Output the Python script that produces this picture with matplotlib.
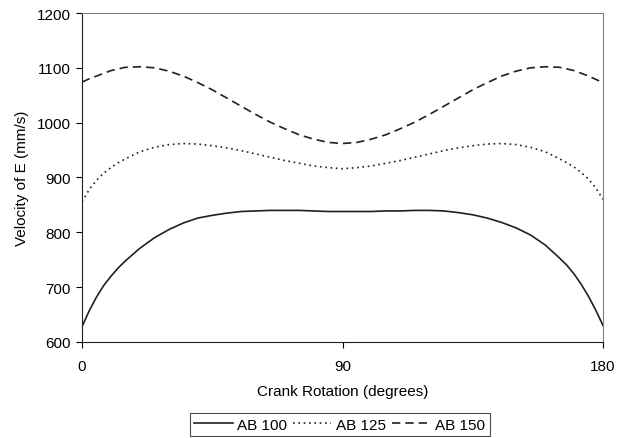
import numpy as np
import matplotlib
matplotlib.use("Agg")
import matplotlib.pyplot as plt

plt.rcParams['font.family'] = ['Liberation Sans', 'DejaVu Sans']

crank = [0, 2.5, 5, 7.5, 10, 12.5, 15, 20, 25, 30, 35, 40, 45, 50, 55, 60,
         65, 70, 75, 80, 85, 90, 95, 100, 105, 110, 115, 120, 125, 130, 135,
         140, 145, 150, 155, 160, 165, 167.5, 170, 172.5, 175, 177.5, 180]

ab100 = [628, 657, 682, 703, 720, 735, 748, 771, 790, 805, 817, 826, 831,
         835, 838, 839, 840, 840, 840, 839, 838, 838, 838, 838, 839, 839,
         840, 840, 839, 836, 832, 826, 818, 808, 795, 777, 753, 740, 724,
         705, 683, 658, 630]

ab125 = [856, 878, 895, 908, 918, 927, 934, 947, 955, 960, 962, 961, 958,
         954, 949, 943, 937, 931, 926, 921, 918, 916, 918, 921, 926, 931,
         937, 943, 949, 954, 958, 961, 962, 960, 955, 947, 934, 927, 919,
         909, 897, 881, 860]

ab150 = [1074, 1080, 1085, 1090, 1095, 1098, 1101, 1102, 1100, 1094, 1085,
         1073, 1060, 1045, 1030, 1015, 1001, 989, 978, 970, 964, 962, 964,
         970, 978, 989, 1001, 1015, 1030, 1045, 1060, 1073, 1085, 1094, 1100,
         1102, 1101, 1098, 1095, 1090, 1085, 1079, 1073]

fig = plt.figure(figsize=(6.29, 4.39), dpi=100)
ax = fig.add_axes([0.1304, 0.2187, 0.8283, 0.7494])

c = "#202020"
ax.plot(crank, ab100, color=c, lw=1.2, label="AB 100")
ax.plot(crank, ab125, color=c, lw=1.2, ls=(0, (1, 2.2)), label="AB 125")
ax.plot(crank, ab150, color=c, lw=1.2, ls=(0, (5, 3)), label="AB 150")

ax.set_xlim(0, 180)
ax.set_ylim(600, 1200)
ax.set_xticks([0, 90, 180])
ax.set_yticks(np.arange(600, 1201, 100))
ax.tick_params(axis="y", direction="out", length=4, pad=4, labelsize=11)
ax.tick_params(axis="x", direction="out", length=4, pad=8, labelsize=11)

for s in ["top", "right"]:
    ax.spines[s].set_color("#808080")
for s in ["left", "bottom"]:
    ax.spines[s].set_color("#202020")

ax.set_xlabel("Crank Rotation (degrees)", fontsize=11, labelpad=8)
ax.set_ylabel("Velocity of E (mm/s)", fontsize=11, labelpad=6)

leg = fig.legend(loc="center", bbox_to_anchor=(0.54, 0.03), ncol=3,
                 fontsize=11, frameon=True, fancybox=False, handlelength=2.5,
                 columnspacing=0.4, handletextpad=0.3, borderpad=0.3)
leg.get_frame().set_edgecolor("#202020")
leg.get_frame().set_linewidth(0.8)

fig.savefig("out.png", dpi=100)
